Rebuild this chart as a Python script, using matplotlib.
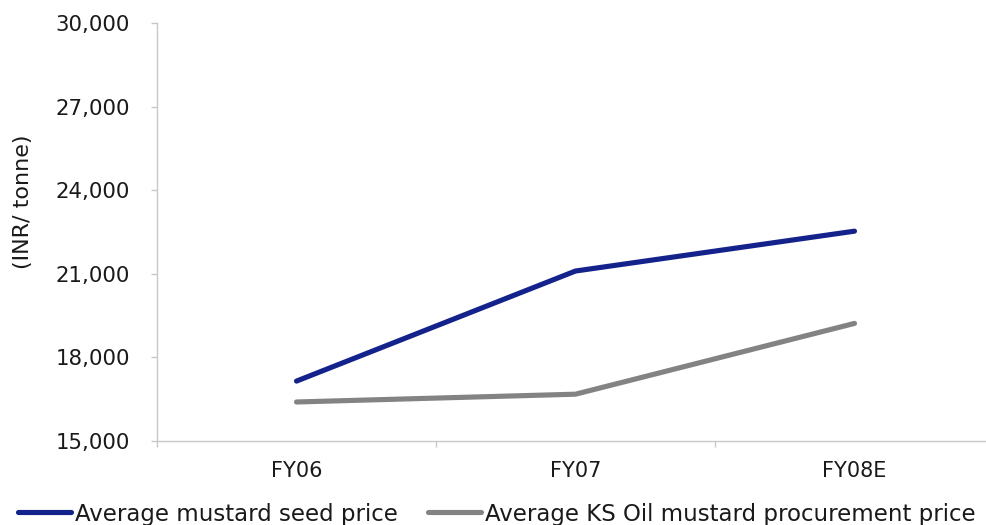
import matplotlib
matplotlib.use("Agg")
import matplotlib.pyplot as plt
from matplotlib.ticker import FuncFormatter, FixedLocator

categories = ["FY06", "FY07", "FY08E"]
seed_price = [17150, 21100, 22530]
ks_oil_price = [16400, 16680, 19220]
series_names = ["Average mustard seed price", "Average KS Oil mustard procurement price"]
y_ticks = [15000, 18000, 21000, 24000, 27000, 30000]
y_label = "(INR/ tonne)"

plt.rcParams["font.family"] = ["DejaVu Sans"]

W, H = 987, 525
fig = plt.figure(figsize=(W / 100, H / 100), dpi=100)
ax = fig.add_axes([157 / W, 1 - 441 / H, (994 - 157) / W, (441 - 23) / H])

x = list(range(len(categories)))
ax.plot(x, seed_price, color="#14228c", lw=3.7, solid_capstyle="round",
        solid_joinstyle="round", label=series_names[0])
ax.plot(x, ks_oil_price, color="#838383", lw=3.7, solid_capstyle="round",
        solid_joinstyle="round", label=series_names[1])

ax.set_xlim(-0.5, len(categories) - 0.5)
ax.set_ylim(y_ticks[0], y_ticks[-1])
ax.yaxis.set_major_locator(FixedLocator(y_ticks))
ax.yaxis.set_major_formatter(FuncFormatter(lambda v, p: f"{v:,.0f}"))
ax.set_xticks(x)
ax.set_xticklabels(categories)
ax.set_xticks([i - 0.5 for i in range(len(categories) + 1)], minor=True)

spine_color = "#c8c8c8"
for side in ("top", "right"):
    ax.spines[side].set_visible(False)
for side in ("left", "bottom"):
    ax.spines[side].set_color(spine_color)
    ax.spines[side].set_linewidth(1.0)

ax.tick_params(axis="y", which="major", length=4.5, width=1.0, color=spine_color,
               labelsize=15.3, labelcolor="#1a1a1a", pad=15)
ax.tick_params(axis="x", which="major", length=0, labelsize=15,
               labelcolor="#1a1a1a", pad=14.5)
ax.tick_params(axis="x", which="minor", length=4.5, width=1.0, color=spine_color)

fig.text(23 / W, 1 - 202 / H, y_label, rotation=90, ha="center", va="center",
         fontsize=16, color="#1a1a1a")

fig.legend(loc="center left", bbox_to_anchor=(18 / W, 1 - 514 / H), ncol=2,
           frameon=False, fontsize=16.5, handlelength=2.3, handletextpad=0.2,
           columnspacing=1.3, borderpad=0, borderaxespad=0, labelcolor="#1a1a1a")

fig.savefig("out.png", dpi=100)
